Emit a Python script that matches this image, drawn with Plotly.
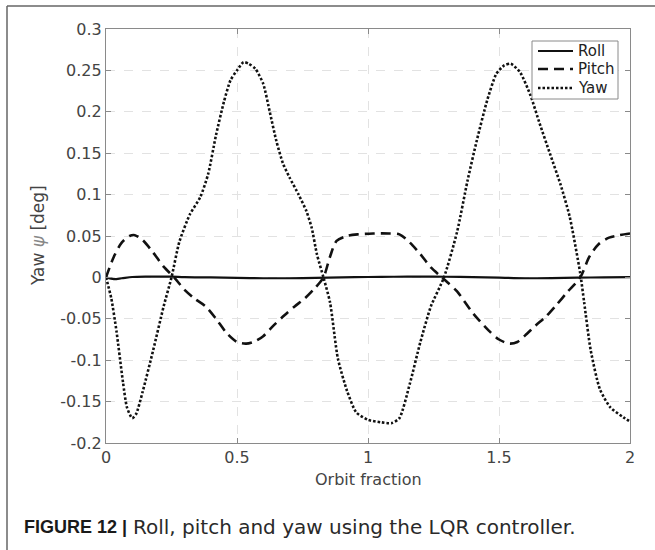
import plotly.graph_objects as go

# ---- data ----
roll_t = [0, 0.03, 0.06, 0.1, 0.15, 0.2, 0.25, 0.3, 0.4, 0.5, 0.6, 0.7, 0.8, 0.9,
          1.0, 1.1, 1.2, 1.3, 1.4, 1.5, 1.6, 1.7, 1.8, 1.9, 2.0]
roll_v = [0, -0.002, -0.001, 0.0005, 0.001, 0.001, 0.001, 0.0003, 0, -0.0005, -0.001,
          -0.001, -0.0005, 0, 0.0005, 0.0008, 0.001, 0.0008, 0.0003, -0.0003, -0.001,
          -0.0008, -0.0003, 0, 0.0003]

pitch_t = [0, 0.03, 0.06, 0.09, 0.11, 0.14, 0.18, 0.22, 0.26, 0.3, 0.34, 0.38, 0.42,
           0.46, 0.5, 0.535, 0.57, 0.6, 0.64, 0.68, 0.72, 0.76, 0.8, 0.83, 0.855, 0.88,
           0.92, 0.96, 1.02, 1.08, 1.12, 1.16, 1.2, 1.24, 1.275, 1.3, 1.34, 1.4, 1.46,
           1.5, 1.54, 1.57, 1.6, 1.64, 1.68, 1.72, 1.76, 1.81, 1.845, 1.88, 1.92, 1.96, 2.0]
pitch_v = [0, 0.025, 0.042, 0.05, 0.051, 0.045, 0.03, 0.013, 0, -0.015, -0.026, -0.035,
           -0.05, -0.067, -0.078, -0.08, -0.077, -0.071, -0.058, -0.046, -0.035, -0.025,
           -0.012, 0, 0.025, 0.044, 0.05, 0.052, 0.053, 0.053, 0.052, 0.042, 0.028, 0.012,
           0.002, -0.005, -0.017, -0.043, -0.064, -0.075, -0.08, -0.078, -0.07, -0.058,
           -0.047, -0.033, -0.018, 0, 0.025, 0.04, 0.048, 0.051, 0.053]

yaw_t = [0, 0.02, 0.04, 0.065, 0.08, 0.1, 0.115, 0.14, 0.18, 0.22, 0.25, 0.28, 0.32,
         0.36, 0.39, 0.42, 0.45, 0.475, 0.5, 0.525, 0.545, 0.57, 0.6, 0.625, 0.65, 0.675,
         0.7, 0.735, 0.765, 0.785, 0.805, 0.83, 0.855, 0.885, 0.92, 0.955, 1.0, 1.05,
         1.09, 1.12, 1.16, 1.2, 1.24, 1.29, 1.34, 1.38, 1.415, 1.455, 1.49, 1.52, 1.545,
         1.58, 1.62, 1.655, 1.695, 1.735, 1.77, 1.81, 1.825, 1.85, 1.885, 1.925, 1.975, 2.0]
yaw_v = [0, -0.025, -0.065, -0.127, -0.157, -0.17, -0.165, -0.138, -0.088, -0.035, 0,
         0.043, 0.076, 0.097, 0.125, 0.172, 0.212, 0.238, 0.25, 0.26, 0.258, 0.252, 0.234,
         0.2, 0.165, 0.138, 0.121, 0.1, 0.08, 0.06, 0.028, 0, -0.03, -0.098, -0.137,
         -0.163, -0.172, -0.175, -0.176, -0.17, -0.128, -0.078, -0.035, 0, 0.055, 0.117,
         0.165, 0.214, 0.246, 0.256, 0.258, 0.248, 0.22, 0.186, 0.149, 0.112, 0.073,
         0.005, -0.03, -0.088, -0.135, -0.157, -0.169, -0.174]

series_names = ["Roll", "Pitch", "Yaw"]

x_ticks = [0, 0.5, 1, 1.5, 2]
x_tick_labels = ["0", "0.5", "1", "1.5", "2"]
y_ticks = [-0.2, -0.15, -0.1, -0.05, 0, 0.05, 0.1, 0.15, 0.2, 0.25, 0.3]
y_tick_labels = ["-0.2", "-0.15", "-0.1", "-0.05", "0", "0.05", "0.1", "0.15", "0.2", "0.25", "0.3"]

FONT = "DejaVu Sans"
W, H = 655, 550
ML, MR, MT, MB = 106, 25, 29, 107
PW, PH = W - ML - MR, H - MT - MB


def px(x):
    return (x - ML) / PW


def py(y):
    return (H - MB - y) / PH


styles = [
    dict(color="#111111", width=2.2, dash="solid"),
    dict(color="#111111", width=2.6, dash="10px,6px"),
    dict(color="#111111", width=2.6, dash="2.5px,2px"),
]

fig = go.Figure()
for name, tt, vv, st, sm in zip(series_names, [roll_t, pitch_t, yaw_t],
                                [roll_v, pitch_v, yaw_v], styles, [0.8, 0.8, 0.6]):
    fig.add_trace(go.Scatter(x=tt, y=vv, name=name, mode="lines", showlegend=False,
                             line=dict(shape="spline", smoothing=sm, **st)))

axis_common = dict(
    showline=True, linecolor="#8a8a8a", linewidth=1.2, mirror="allticks",
    ticks="inside", ticklen=5, tickcolor="#8a8a8a", tickwidth=1,
    showgrid=True, gridcolor="#e2e2e2", gridwidth=1, griddash="dash",
    zeroline=False, tickfont=dict(family=FONT, size=16, color="#444444"),
)

fig.update_xaxes(range=[0, 2], tickvals=x_ticks, ticktext=x_tick_labels, **axis_common)
fig.update_yaxes(range=[-0.2, 0.3], tickvals=y_ticks, ticktext=y_tick_labels, **axis_common)

fig.update_layout(
    width=W, height=H,
    margin=dict(l=ML, r=MR, t=MT, b=MB),
    paper_bgcolor="white", plot_bgcolor="white",
    font=dict(family=FONT, size=16, color="#444444"),
    showlegend=False,
)

# legend box (drawn manually to match compact MATLAB legend)
fig.add_shape(type="rect", xref="paper", yref="paper", x0=px(532), x1=px(618),
              y0=py(99), y1=py(41), line=dict(color="#8a8a8a", width=1), fillcolor="white",
              layer="above")
for name, st, yy in zip(series_names, styles, [51, 69, 88]):
    fig.add_shape(type="line", xref="paper", yref="paper", x0=px(538), x1=px(573),
                  y0=py(yy), y1=py(yy),
                  line=dict(color=st["color"], width=st["width"], dash=st["dash"]))
    fig.add_annotation(x=px(576), y=py(yy), xref="paper", yref="paper", text=name,
                       showarrow=False, xanchor="left", yanchor="middle",
                       font=dict(family=FONT, size=15, color="#222222"))

# axis titles
fig.add_annotation(x=px(38), y=0.5, xref="paper", yref="paper", textangle=-90,
                   text="Yaw <span style='color:#888'><i>ψ</i></span> [deg]", showarrow=False,
                   font=dict(family=FONT, size=17, color="#444444"),
                   xanchor="center", yanchor="middle")
fig.add_annotation(x=0.5, y=py(479), xref="paper", yref="paper",
                   text="Orbit fraction", showarrow=False,
                   font=dict(family=FONT, size=16, color="#444444"),
                   xanchor="center", yanchor="middle")

# caption
fig.add_annotation(x=px(22), y=py(527), xref="paper", yref="paper",
                   text="<b>FIGURE 12 |</b>",
                   showarrow=False, font=dict(family="Liberation Sans", size=18, color="#1a1a1a"),
                   xanchor="left", yanchor="middle")
fig.add_annotation(x=px(131), y=py(527), xref="paper", yref="paper",
                   text="Roll, pitch and yaw using the LQR controller.",
                   showarrow=False, font=dict(family=FONT, size=20, color="#2a2a2a"),
                   xanchor="left", yanchor="middle")

# outer frame (top and left)
fig.add_shape(type="line", xref="paper", yref="paper", x0=px(7), x1=px(655), y0=py(6), y1=py(6),
              line=dict(color="#666666", width=1.5))
fig.add_shape(type="line", xref="paper", yref="paper", x0=px(7), x1=px(7), y0=py(6), y1=py(550),
              line=dict(color="#666666", width=1.5))

fig.write_html("out.html")
